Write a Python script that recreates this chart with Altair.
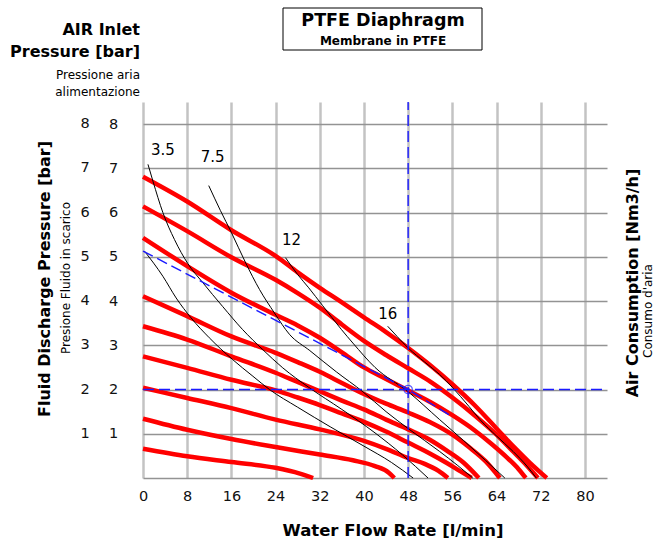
import altair as alt
import pandas as pd

# ---------------- data ----------------
# x axis (water flow rate l/min) and y axis (bar) tick values
x_ticks = [0, 8, 16, 24, 32, 40, 48, 56, 64, 72, 80]
y_ticks = [0, 1, 2, 3, 4, 5, 6, 7, 8]
y_label_vals = [1, 2, 3, 4, 5, 6, 7, 8]

# red performance curves (fluid discharge pressure vs flow)
red_a_x = [0, 8, 16, 24, 28, 32, 36, 40, 44, 48, 52, 56, 60, 64, 67, 70, 73.1]
red_a_y = [6.81, 6.25, 5.6, 5.02, 4.65, 4.3, 3.97, 3.63, 3.3, 2.94, 2.55, 2.12, 1.65, 1.12, 0.72, 0.35, 0]
red_b_x = [0, 8, 16, 24, 28, 32, 36, 40, 44, 48, 52, 56, 60, 64, 67, 69.5, 71.5]
red_b_y = [6.14, 5.58, 4.99, 4.48, 4.18, 3.85, 3.47, 3.1, 2.78, 2.48, 2.18, 1.82, 1.42, 0.98, 0.6, 0.28, 0]
red_c_x = [0, 8, 16, 24, 28, 32, 36, 40, 44, 48, 52, 56, 60, 63, 66, 68, 69.3]
red_c_y = [5.43, 4.79, 4.19, 3.69, 3.45, 3.17, 2.84, 2.5, 2.24, 1.98, 1.72, 1.42, 1.08, 0.78, 0.45, 0.2, 0]
red_d_x = [0, 8, 16, 24, 28, 32, 36, 40, 44, 48, 52, 56, 59, 62, 64.6]
red_d_y = [4.11, 3.66, 3.2, 2.83, 2.62, 2.4, 2.15, 1.9, 1.68, 1.48, 1.26, 0.98, 0.7, 0.38, 0]
red_e_x = [0, 8, 16, 24, 28, 32, 36, 40, 44, 48, 52, 55, 58, 60.8]
red_e_y = [3.43, 3.13, 2.75, 2.38, 2.17, 1.96, 1.75, 1.55, 1.32, 1.1, 0.86, 0.62, 0.35, 0]
red_f_x = [0, 8, 16, 24, 28, 32, 36, 40, 44, 48, 52, 55, 57.5, 59.5]
red_f_y = [2.75, 2.49, 2.22, 1.98, 1.82, 1.65, 1.46, 1.27, 1.05, 0.8, 0.55, 0.34, 0.15, 0]
red_g_x = [0, 8, 16, 24, 32, 40, 44, 48, 51, 53.5, 55.2]
red_g_y = [2.04, 1.81, 1.58, 1.32, 1.1, 0.84, 0.66, 0.45, 0.32, 0.16, 0]
red_h_x = [0, 8, 16, 24, 32, 38, 42, 44.5, 45.5]
red_h_y = [1.34, 1.09, 0.88, 0.7, 0.53, 0.4, 0.27, 0.12, 0]
red_i_x = [0, 8, 16, 24, 28.4, 30.8]
red_i_y = [0.66, 0.49, 0.36, 0.23, 0.1, 0]

# black air-consumption curves
blk_0_x = [0.25, 3.6, 6, 8.7, 12, 16.2, 19.9, 22.9, 28, 34, 40, 45, 48.9]
blk_0_y = [5.13, 4.56, 4.07, 3.62, 3.17, 2.68, 2.3, 2.0, 1.6, 1.15, 0.72, 0.35, 0]
blk_35_x = [0.9, 1.8, 3.6, 5.7, 8.1, 10.8, 14.4, 18, 21.7, 25.3, 30, 36, 42, 47, 51.6]
blk_35_y = [7.09, 6.71, 6.0, 5.39, 4.85, 4.42, 3.88, 3.36, 2.9, 2.49, 2.05, 1.55, 1.02, 0.52, 0]
blk_75_x = [11.9, 14, 16, 18.6, 21.1, 23.8, 26.5, 30.2, 35, 39.8, 44, 48.3, 53.7, 57, 59.7]
blk_75_y = [6.61, 6.05, 5.55, 4.86, 4.26, 3.73, 3.25, 2.88, 2.4, 1.95, 1.5, 1.09, 0.6, 0.28, 0]
blk_12_x = [25.8, 28, 30, 32.5, 35.9, 38, 42, 48, 53.7, 58, 62, 65.5]
blk_12_y = [4.98, 4.6, 4.3, 3.9, 3.36, 3.05, 2.5, 1.95, 1.32, 0.85, 0.4, 0]
blk_16_x = [44.3, 46, 48, 51, 53.7, 56, 59, 61, 64, 67, 69.5, 71.2]
blk_16_y = [3.43, 3.2, 2.94, 2.62, 2.34, 2.05, 1.62, 1.32, 0.95, 0.6, 0.27, 0]

# labels of the consumption curves
cons_labels = ["3.5", "7.5", "12", "16"]
cons_label_x = [3.6, 12.6, 26.9, 44.3]
cons_label_y = [7.42, 7.25, 5.39, 3.7]

# blue example reading (dashed)
blue_v_x = [48, 48]
blue_v_y = [0, 8.5]
blue_h_x = [0, 84]
blue_h_y = [2, 2]
blue_d_x = [0, 48, 55.8]
blue_d_y = [5.13, 2.0, 1.4]
marker_x = [48]
marker_y = [2]

# ---------------- build tables ----------------
def series(name, xs, ys):
    return pd.DataFrame({"curve": name, "x": xs, "y": ys, "o": list(range(len(xs)))})

red = pd.concat([
    series("A", red_a_x, red_a_y), series("B", red_b_x, red_b_y),
    series("C", red_c_x, red_c_y), series("D", red_d_x, red_d_y),
    series("E", red_e_x, red_e_y), series("F", red_f_x, red_f_y),
    series("G", red_g_x, red_g_y), series("H", red_h_x, red_h_y),
    series("I", red_i_x, red_i_y),
])
black = pd.concat([
    series("0", blk_0_x, blk_0_y), series("3.5", blk_35_x, blk_35_y),
    series("7.5", blk_75_x, blk_75_y), series("12", blk_12_x, blk_12_y),
    series("16", blk_16_x, blk_16_y),
])
blue = pd.concat([
    series("v", blue_v_x, blue_v_y), series("h", blue_h_x, blue_h_y),
    series("d", blue_d_x, blue_d_y),
])
labels_df = pd.DataFrame({"t": cons_labels, "x": cons_label_x, "y": cons_label_y})
marker_df = pd.DataFrame({"x": marker_x, "y": marker_y})
ylab_df = pd.DataFrame({"y": y_label_vals})

FONT = "DejaVu Sans"
xs = alt.Scale(domain=[0, 84], nice=False, zero=True)
ys = alt.Scale(domain=[0, 8.5], nice=False, zero=True)

x_axis = alt.Axis(values=x_ticks, grid=True, gridColor="#c3c3c3", gridWidth=2.5,
                  domain=False, ticks=False, labelPadding=11,
                  labelFont=FONT, labelFontSize=14.5, labelColor="#111",
                  labelFlush=False, title=None)
y_axis = alt.Axis(values=y_ticks, grid=True, gridColor="#939393", gridWidth=1.6,
                  domain=False, ticks=False, labelPadding=30,
                  labelAlign="center", labelExpr="datum.value == 0 ? '' : datum.label",
                  labelFont=FONT, labelFontSize=14.5, labelColor="#111", title=None)

X = alt.X("x:Q", scale=xs, axis=x_axis)
Y = alt.Y("y:Q", scale=ys, axis=y_axis)

red_layer = alt.Chart(red).mark_line(color="#ff0000", strokeWidth=4.5, interpolate="monotone").encode(
    x=X, y=Y, detail="curve:N", order="o:Q",
)
black_layer = alt.Chart(black).mark_line(color="black", strokeWidth=1, interpolate="monotone").encode(
    x=X, y=Y, detail="curve:N", order="o:Q",
)
blue_layer = alt.Chart(blue).mark_line(color="#1a1aff", strokeWidth=1.4, strokeDash=[11, 5]).encode(
    x=X, y=Y, detail="curve:N", order="o:Q",
)
marker_layer = alt.Chart(marker_df).mark_point(shape="circle", size=70, filled=False,
                                               color="#1a1aff", strokeWidth=1.3).encode(x=X, y=Y)
cons_text = alt.Chart(labels_df).mark_text(font=FONT, fontSize=15, color="black").encode(
    x=X, y=Y, text="t:N",
)
outer_ylabels = alt.Chart(ylab_df).mark_text(font=FONT, fontSize=14.5, color="#111").encode(
    x=alt.value(-58), y=Y, text="y:Q",
)


def label(text, x, y, size, weight="normal", angle=0, align="center"):
    return alt.Chart(pd.DataFrame({"t": [text]})).mark_text(
        font=FONT, fontSize=size, fontWeight=weight, angle=angle, align=align,
        baseline="middle", color="black"
    ).encode(text="t:N", x=alt.value(x), y=alt.value(y))


title_box = alt.Chart(pd.DataFrame({"a": [0]})).mark_rect(
    fill="white", stroke="black", strokeWidth=1
).encode(x=alt.value(140), x2=alt.value(339), y=alt.value(-94), y2=alt.value(-52))

texts = [
    label("PTFE Diaphragm", 240, -81, 17.5, "bold"),
    label("Membrane in PTFE", 240, -61, 12, "bold"),
    label("AIR Inlet", -3, -72, 16, "bold", align="right"),
    label("Pressure [bar]", -3, -50, 16, "bold", align="right"),
    label("Pressione aria", -3, -27, 12, align="right"),
    label("alimentazione", -3, -10, 12, align="right"),
    label("Fluid Discharge Pressure [bar]", -98, 177, 16, "bold", angle=270),
    label("Presione Fluido in scarico", -77, 176, 12, angle=270),
    label("Air Consumption [Nm3/h]", 490, 181, 16, "bold", angle=270),
    label("Consumo d'aria", 505, 209, 12, angle=270),
    label("Water Flow Rate [l/min]", 250, 429, 16.5, "bold"),
]

chart = alt.layer(
    red_layer, black_layer, blue_layer, marker_layer, cons_text, outer_ylabels,
    title_box, *texts
).properties(
    width=464, height=376,
    padding={"left": 143, "top": 102, "right": 48, "bottom": 64},
    autosize=alt.AutoSizeParams(type="none"),
    background="white",
).configure_view(stroke=None)

chart.save("out.html", embed_options={"renderer": "svg", "actions": False})
